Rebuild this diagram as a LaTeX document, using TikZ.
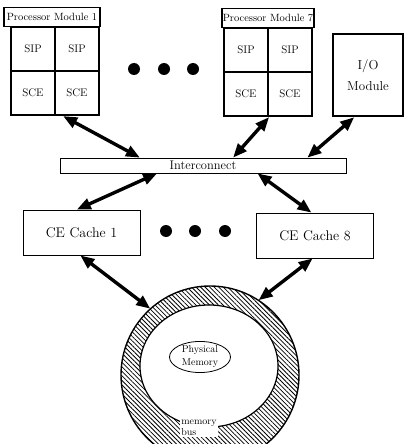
\documentclass[tikz,border=0pt]{standalone}
\usetikzlibrary{arrows.meta,calc,shapes.geometric,patterns.meta}
\begin{document}
\begin{tikzpicture}[x=1pt,y=-1pt,
    cell/.style={draw,line width=2.2pt,minimum width=44pt,minimum height=44pt,inner sep=0pt,font=\fontsize{11}{13}\selectfont},
    title/.style={draw,line width=1.2pt,minimum height=19pt,inner sep=0pt,font=\fontsize{10.5}{12}\selectfont},
    iobox/.style={draw,line width=2.4pt,minimum width=70pt,minimum height=82pt,align=center,font=\fontsize{13}{21}\selectfont},
    cache/.style={draw,line width=0.8pt,minimum width=117pt,minimum height=45pt,font=\fontsize{14}{16}\selectfont},
    bus/.style={draw,line width=0.7pt,minimum width=286pt,minimum height=15pt,inner sep=0pt,font=\fontsize{12.5}{14}\selectfont},
    link/.style={line width=3.4pt,{Triangle[length=14pt,width=11pt]}-{Triangle[length=14pt,width=11pt]}}]
    \useasboundingbox (0,0) rectangle (411,444);
    \clip (0,0) rectangle (411,444);
    \node[title,minimum width=96pt,anchor=south] (pm1) at (52,27) {Processor Module 1};
    \node[title,minimum width=92pt,anchor=south] (pm7) at (268,28) {Processor Module 7};
    \foreach \m/\x/\y in {1/33/49,7/246/50}{
        \node[cell] (pm\m-sip1) at (\x,\y) {SIP};
        \node[cell] (pm\m-sip2) at (\x+44,\y) {SIP};
        \node[cell] (pm\m-sce1) at (\x,\y+44) {SCE};
        \node[cell] (pm\m-sce2) at (\x+44,\y+44) {SCE};
    }
    \node[iobox] (io) at (368,75) {I/O\\Module};
    \foreach \x in {134,164,193}
        \fill (\x,69) circle[radius=6];
    \node[bus] (ic) at (203,165.5) {Interconnect};
    \node[cache] (ce1) at (81.5,232.5) {CE Cache 1};
    \node[cache] (ce8) at (315,235.5) {CE Cache 8};
    \foreach \x in {166,195,225}
        \fill (\x,231) circle[radius=6];
    \path[pattern={Lines[angle=-45,distance=3.2pt,line width=0.8pt]},even odd rule]
        (210,375) circle[radius=89] (209,366) ellipse[x radius=69,y radius=61];
    \draw[line width=1.4pt] (210,375) circle[radius=89];
    \draw[line width=1.2pt] (209,366) ellipse[x radius=69,y radius=61];
    \node[circle,minimum size=178pt,inner sep=0pt] (ring) at (210,375) {};
    \node[draw,ellipse,line width=0.8pt,minimum width=61pt,minimum height=30pt,inner sep=0pt,align=center,font=\fontsize{10}{13}\selectfont] (phys) at (200,357) {Physical\\Memory};
    \node[fill=white,inner sep=1pt,align=left,font=\fontsize{10}{11}\selectfont] (mbus) at (199,428) {memory\\bus};
    \draw[link] ($(pm1-sce2.south west)!0.2!(pm1-sce2.south east)$) -- ($(ic.north west)!0.28!(ic.north east)$);
    \draw[link] (pm7-sce1.south east) -- ($(ic.north west)!0.605!(ic.north east)$);
    \draw[link] ($(io.south west)!0.31!(io.south east)$) -- ($(ic.north west)!0.864!(ic.north east)$);
    \draw[link] ($(ic.south west)!0.34!(ic.south east)$) -- ($(ce1.north west)!0.46!(ce1.north east)$);
    \draw[link] ($(ic.south west)!0.69!(ic.south east)$) -- ($(ce8.north west)!0.47!(ce8.north east)$);
    \draw[link] ($(ce1.south west)!0.49!(ce1.south east)$) -- (ring.132);
    \draw[link] ($(ce8.south west)!0.48!(ce8.south east)$) -- (ring.57);
\end{tikzpicture}
\end{document}
